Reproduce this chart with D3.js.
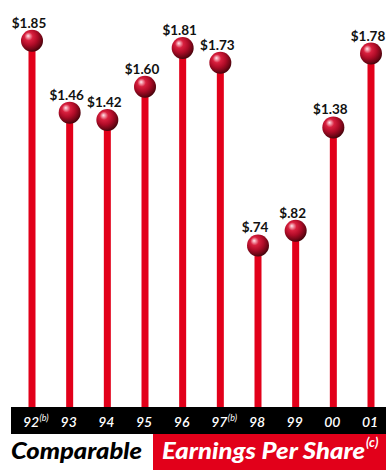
<!DOCTYPE html>
<html>
<head>
<meta charset="utf-8">
<script src="https://cdn.jsdelivr.net/npm/d3@7"></script>
<style>
  html, body { margin: 0; padding: 0; background: #fff; }
  svg { display: block; }
</style>
</head>
<body>
<svg id="chart" width="386" height="472"></svg>
<script>
// Comparable earnings per share, 1992–2001
const years = ["92", "93", "94", "95", "96", "97", "98", "99", "00", "01"];
const eps = [1.85, 1.46, 1.42, 1.60, 1.81, 1.73, 0.74, 0.82, 1.38, 1.78];
const valueLabels = ["$1.85", "$1.46", "$1.42", "$1.60", "$1.81", "$1.73", "$.74", "$.82", "$1.38", "$1.78"];
const yearNotes = ["(b)", "", "", "", "", "(b)", "", "", "", ""];
const titleLeft = "Comparable";
const titleRight = "Earnings Per Share";
const titleNote = "(c)";

const RED = "#e2001a";
const font = "Lato, 'Open Sans', sans-serif";

const svg = d3.select("#chart");
const defs = svg.append("defs");

// shaded sphere for each value marker
const grad = defs.append("radialGradient")
  .attr("id", "ball")
  .attr("cx", "42%").attr("cy", "38%").attr("r", "68%")
  .attr("fx", "32%").attr("fy", "28%");
[
  [0, "#ffe8ee"], [0.1, "#f4a0ae"], [0.28, "#d8203e"],
  [0.55, "#b00c28"], [0.8, "#700616"], [1, "#300206"]
].forEach(([o, c]) => grad.append("stop").attr("offset", o).attr("stop-color", c));

const x = d3.scalePoint().domain(years).range([32, 371]);
const y = d3.scaleLinear().domain([0, 2]).range([382, 13]);

const axisTop = 407, axisBottom = 434;
const r = 11;

const data = years.map((yr, i) => ({ yr, v: eps[i], label: valueLabels[i], note: yearNotes[i] }));

// stems
svg.append("g").selectAll("rect")
  .data(data).join("rect")
  .attr("x", d => x(d.yr) - 3.5)
  .attr("width", 7)
  .attr("y", d => y(d.v))
  .attr("height", d => axisTop - y(d.v))
  .attr("fill", RED);

// year band
svg.append("rect")
  .attr("x", 11).attr("y", axisTop)
  .attr("width", 386 - 11).attr("height", axisBottom - axisTop)
  .attr("fill", "#000");

const yearG = svg.append("g").attr("font-family", font).attr("font-style", "italic")
  .attr("fill", "#fff");
yearG.selectAll("text.yr")
  .data(data).join("text")
  .attr("class", "yr")
  .attr("x", d => x(d.yr) - 1)
  .attr("y", 426.5)
  .attr("text-anchor", "middle")
  .attr("font-size", 14)
  .attr("font-weight", 600)
  .text(d => d.yr);
yearG.selectAll("text.note")
  .data(data.filter(d => d.note)).join("text")
  .attr("class", "note")
  .attr("x", d => x(d.yr) + 7.5)
  .attr("y", 421)
  .attr("font-size", 9)
  .attr("font-weight", 400)
  .text(d => d.note);

// markers
svg.append("g").selectAll("circle")
  .data(data).join("circle")
  .attr("cx", d => x(d.yr))
  .attr("cy", d => y(d.v))
  .attr("r", r)
  .attr("fill", "url(#ball)");

// value labels
svg.append("g").selectAll("text")
  .data(data).join("text")
  .attr("x", d => x(d.yr) - 3)
  .attr("y", d => y(d.v) - r - 2)
  .attr("text-anchor", "middle")
  .attr("font-family", font)
  .attr("font-weight", 700)
  .attr("font-size", 13.5)
  .attr("fill", "#111")
  .text(d => d.label);

// title
svg.append("rect")
  .attr("x", 153).attr("y", axisBottom)
  .attr("width", 386 - 153).attr("height", 470 - axisBottom)
  .attr("fill", RED);

svg.append("text")
  .attr("x", 11).attr("y", 459)
  .attr("font-family", font).attr("font-style", "italic").attr("font-weight", 900)
  .attr("font-size", 23).attr("fill", "#000")
  .attr("textLength", 131).attr("lengthAdjust", "spacingAndGlyphs")
  .text(titleLeft);

svg.append("text")
  .attr("x", 162).attr("y", 459)
  .attr("font-family", font).attr("font-style", "italic").attr("font-weight", 900)
  .attr("font-size", 23).attr("fill", "#fff")
  .attr("textLength", 203).attr("lengthAdjust", "spacingAndGlyphs")
  .text(titleRight);

svg.append("text")
  .attr("x", 366).attr("y", 447)
  .attr("font-family", font).attr("font-style", "italic").attr("font-weight", 700)
  .attr("font-size", 13).attr("fill", "#fff")
  .text(titleNote);
</script>
</body>
</html>
